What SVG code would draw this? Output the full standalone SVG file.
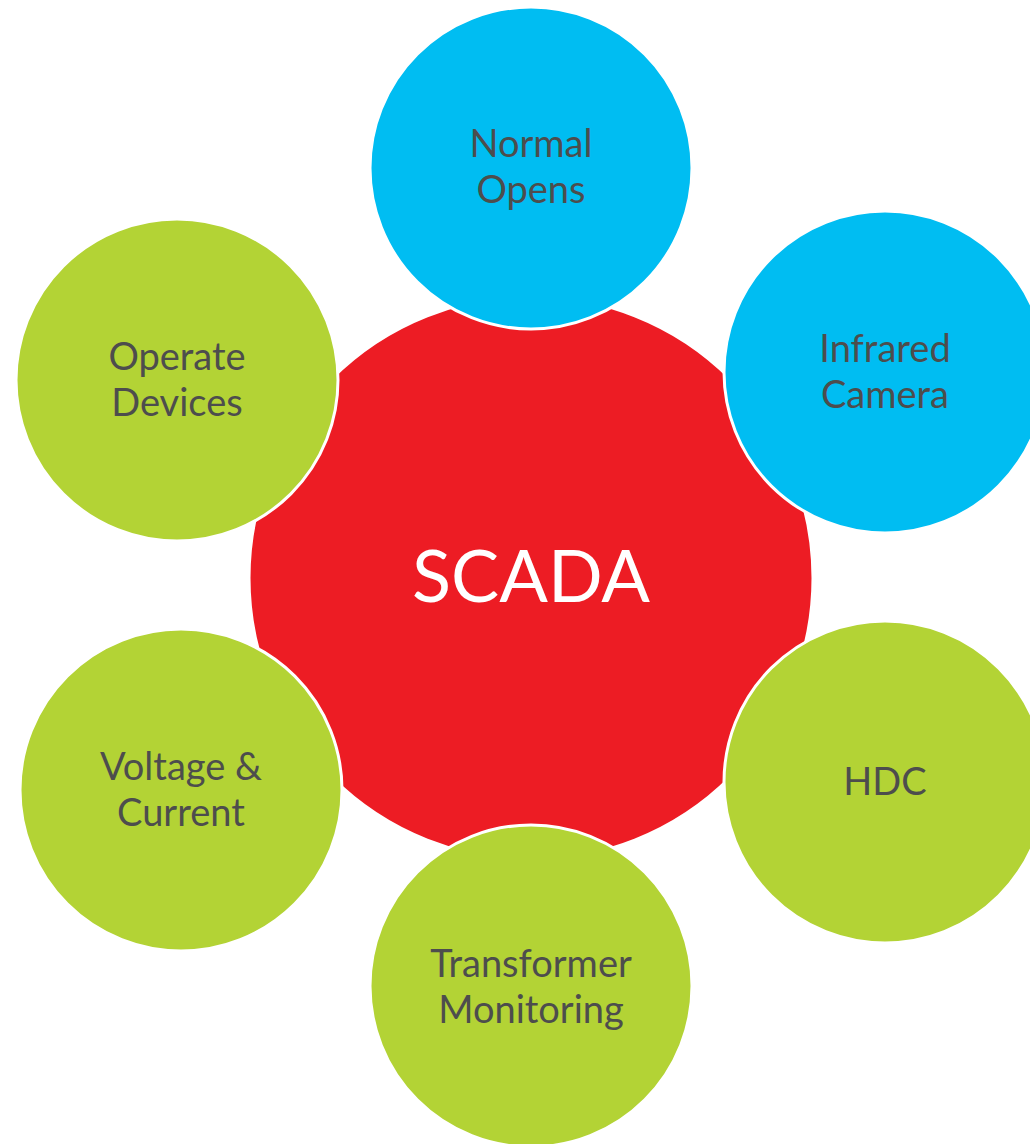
<svg xmlns="http://www.w3.org/2000/svg" width="1030" height="1144" viewBox="0 0 1030 1144">
<style>
.sat{stroke:#ffffff;stroke-width:3}
.blue{fill:#00BDF2}
.green{fill:#B3D335}
.lbl{font-family:Lato,"Open Sans","Liberation Sans",sans-serif;font-size:38px;fill:#4D4D4D;text-anchor:middle}
.hub{font-family:Lato,"Open Sans","Liberation Sans",sans-serif;font-size:72px;fill:#ffffff;text-anchor:middle}
</style>
<rect width="1030" height="1144" fill="#ffffff"/>
<g id="connectors"></g>
<g id="scada">
<circle cx="531" cy="578" r="282" fill="#ED1C24" stroke="#ffffff" stroke-width="3"/>
<text class="hub" x="531" y="602">SCADA</text>
</g>
<g id="normal-opens">
<circle class="sat blue" cx="531" cy="168" r="161"/>
<text class="lbl" x="531" y="157">Normal</text>
<text class="lbl" x="531" y="203">Opens</text>
</g>
<g id="infrared-camera">
<circle class="sat blue" cx="885" cy="372" r="161"/>
<text class="lbl" x="885" y="362">Infrared</text>
<text class="lbl" x="885" y="408">Camera</text>
</g>
<g id="hdc">
<circle class="sat green" cx="885" cy="782" r="161"/>
<text class="lbl" x="885" y="795">HDC</text>
</g>
<g id="transformer-monitoring">
<circle class="sat green" cx="531" cy="986" r="161"/>
<text class="lbl" x="531" y="977">Transformer</text>
<text class="lbl" x="531" y="1023">Monitoring</text>
</g>
<g id="voltage-current">
<circle class="sat green" cx="181" cy="790" r="161"/>
<text class="lbl" x="181" y="780">Voltage &amp;</text>
<text class="lbl" x="181" y="826">Current</text>
</g>
<g id="operate-devices">
<circle class="sat green" cx="177" cy="380" r="161"/>
<text class="lbl" x="177" y="370">Operate</text>
<text class="lbl" x="177" y="416">Devices</text>
</g>
</svg>
